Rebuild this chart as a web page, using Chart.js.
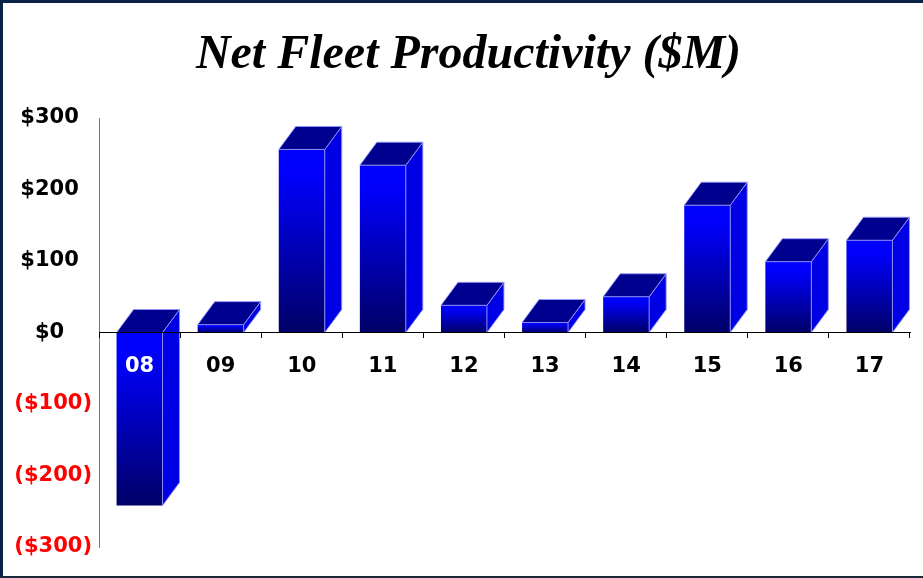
<!DOCTYPE html>
<html>
<head>
<meta charset="utf-8">
<script src="https://cdn.jsdelivr.net/npm/chart.js@4/dist/chart.umd.min.js"></script>
<style>
  html, body { margin: 0; padding: 0; background: #ffffff; }
  #wrap { position: relative; width: 923px; height: 578px; background: #ffffff; }
  #frame { position: absolute; left: 0; top: 0; right: 0; bottom: 0; box-sizing: border-box;
           border-top: 3px solid #0b2247; border-left: 3px solid #0b2247; border-bottom: 2px solid #1c2838;
           pointer-events: none; }
</style>
</head>
<body>
<div id="wrap">
  <canvas id="c"></canvas>
  <div id="frame"></div>
</div>
<script>
// ---- data ----
const titleText = 'Net Fleet Productivity ($M)';
const categories = ['08', '09', '10', '11', '12', '13', '14', '15', '16', '17'];
const values = [-242, 11, 256, 234, 38, 14, 50, 178, 99, 129];
const yTickValues = [-300, -200, -100, 0, 100, 200, 300];
const yTickLabels = ['($300)', '($200)', '($100)', '$0', '$100', '$200', '$300'];

// ---- 3D box faces drawn from the bar elements the library positioned ----
const DX = 17, DY = -23;
const bar3d = {
  id: 'bar3d',
  afterDatasetsDraw(chart) {
    const ctx = chart.ctx;
    const meta = chart.getDatasetMeta(0);
    ctx.save();
    ctx.lineWidth = 1;
    ctx.strokeStyle = 'rgba(150,150,255,0.9)';
    meta.data.forEach((el) => {
      const p = el.getProps(['x', 'y', 'base', 'width'], true);
      const l = p.x - p.width / 2, r = p.x + p.width / 2;
      const t = Math.min(p.y, p.base), b = Math.max(p.y, p.base);
      // side face
      ctx.beginPath();
      ctx.moveTo(r, t); ctx.lineTo(r + DX, t + DY); ctx.lineTo(r + DX, b + DY); ctx.lineTo(r, b); ctx.closePath();
      ctx.fillStyle = '#0000e4';
      ctx.fill(); ctx.stroke();
      // top face
      ctx.beginPath();
      ctx.moveTo(l, t); ctx.lineTo(l + DX, t + DY); ctx.lineTo(r + DX, t + DY); ctx.lineTo(r, t); ctx.closePath();
      ctx.fillStyle = '#00008e';
      ctx.fill(); ctx.stroke();
    });
    ctx.restore();
  }
};

function frontGradient(c) {
  const chart = c.chart;
  if (!chart.chartArea || c.type !== 'data' || !chart.scales.y) return '#0000ff';
  const ys = chart.scales.y;
  const y0 = ys.getPixelForValue(0), y1 = ys.getPixelForValue(c.parsed.y);
  const top = Math.min(y0, y1), bot = Math.max(y0, y1) + 0.5;
  const g = chart.ctx.createLinearGradient(0, top, 0, bot);
  g.addColorStop(0, '#0000ff');
  g.addColorStop(0.15, '#0000fa');
  g.addColorStop(1, '#000066');
  return g;
}

const labelFont = { family: "'DejaVu Sans', sans-serif", size: 21, weight: 'bold' };

new Chart(document.getElementById('c'), {
  type: 'bar',
  data: {
    labels: categories,
    datasets: [{
      data: values,
      backgroundColor: frontGradient,
      borderWidth: 0,
      barPercentage: 0.567,
      categoryPercentage: 1.0
    }]
  },
  options: {
    responsive: true,
    maintainAspectRatio: false,
    animation: false,
    layout: { padding: { top: 0, left: 14, right: 0, bottom: 31 } },
    plugins: {
      legend: { display: false },
      tooltip: { enabled: false },
      title: {
        display: true,
        text: titleText,
        color: '#000000',
        font: { family: "'Liberation Serif', 'Times New Roman', serif", size: 48, weight: 'bold', style: 'italic', lineHeight: 1.2 },
        padding: { top: 27, bottom: 33.4 }
      }
    },
    scales: {
      x: {
        position: { y: 0 },
        offset: true,
        afterFit(s) { s.height = 0; },
        grid: { display: true, drawOnChartArea: false, drawTicks: true, tickLength: 5, color: '#000000', offset: true, z: 1 },
        border: { display: true, color: '#000000', width: 1, z: 1 },
        ticks: {
          z: 1,
          font: labelFont,
          padding: 16,
          color: (c) => (c.index === 0 ? '#ffffff' : '#000000'),
          maxRotation: 0,
          autoSkip: false
        }
      },
      y: {
        min: -300,
        max: 300,
        afterFit(s) { s.width = 85; },
        afterBuildTicks(s) { s.ticks = yTickValues.map((v) => ({ value: v })); },
        grid: { display: false, drawTicks: false },
        border: { display: true, color: '#7a7a7a', width: 1 },
        ticks: {
          font: labelFont,
          crossAlign: 'center',
          padding: 7,
          color: (c) => (c.tick && c.tick.value < 0 ? '#ff0000' : '#000000'),
          callback: (v) => {
            const i = yTickValues.indexOf(v);
            const s = i >= 0 ? yTickLabels[i] : '';
            return v >= 0 ? s + ' ' : s;
          }
        }
      },
      yRight: {
        position: 'right',
        afterFit(s) { s.width = 13; },
        grid: { display: false, drawTicks: false },
        border: { display: false },
        ticks: { display: false }
      }
    }
  },
  plugins: [bar3d]
});
</script>
</body>
</html>
